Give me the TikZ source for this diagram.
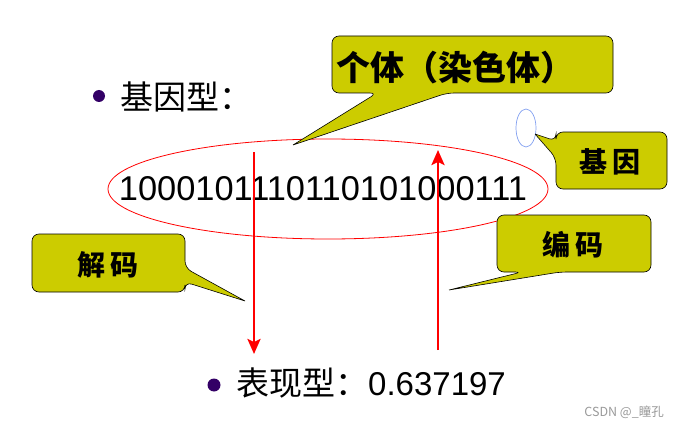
\documentclass[tikz,border=0pt]{standalone}
\usepackage{fontspec}
\setmainfont{Liberation Sans}
\newfontfamily\cjk{Noto Sans CJK SC}
\usepackage{tikz}
\usetikzlibrary{calc,arrows.meta}
\usepackage{xcolor}
\definecolor{bubblefill}{RGB}{204,204,0}
\definecolor{bulletpurple}{RGB}{51,0,102}
\definecolor{geneblue}{RGB}{130,160,240}

\tikzset{
  bubble/.style={fill=bubblefill, draw=black, line width=0.6pt, rounded corners=7pt},
  bubbletext/.style={font=\cjk\bfseries\fontsize{28}{32}\selectfont, inner sep=0pt},
  redarrow/.style={red, line width=2.6pt, -{Stealth[length=15pt,width=13pt,inset=3pt]}}
}

\begin{document}
\begin{tikzpicture}[x=1pt,y=-1pt]
    \useasboundingbox (0,0) rectangle (678,428);

    \fill[bulletpurple] (99,96) circle (6);
    \node[anchor=west, inner sep=0pt, font=\cjk\fontsize{33}{37}\selectfont] (genotype) at (120,97) {基因型：};

    \draw[red, line width=0.8pt] (328,189) ellipse (220 and 50);
    \node[inner sep=0pt, font=\fontsize{34.4}{39}\selectfont] (bits) at (323,189) {1000101110110101000111};

    \draw[geneblue, line width=0.7pt] (526,128) ellipse (10 and 19);

    \coordinate (decodetop) at (254,152);
    \coordinate (decodebot) at (254,354);
    \coordinate (encodebot) at (438,350);
    \coordinate (encodetop) at (438,150);
    \draw[redarrow] (decodetop) -- (decodebot);
    \draw[redarrow] (encodebot) -- (encodetop);

    \draw[bubble] (293,145) -- (447,93) -- (613,93) -- (613,36) -- (332,36) -- (332,93) -- (377,93) -- (293,145);
    \node[bubbletext, font=\cjk\bfseries\fontsize{34}{38}\selectfont] (individual) at (455,68) {个体（染色体）};

    \draw[bubble] (535,134) -- (556,158) -- (556,189) -- (667,189) -- (667,132) -- (556,132) -- (556,141) -- (535,134);
    \node[bubbletext] (gene) at (610,162) {基\hspace{5pt}因};

    \draw[bubble] (245,301) -- (185,268) -- (185,234) -- (32,234) -- (32,292) -- (185,292) -- (185,282) -- (245,301);
    \node[bubbletext] (decode) at (108,265) {解\hspace{5pt}码};

    \draw[bubble] (449,290) -- (522,272) -- (497,272) -- (497,215) -- (651,215) -- (651,272) -- (560,272) -- (449,290);
    \node[bubbletext] (encode) at (573,245) {编\hspace{5pt}码};

    \fill[bulletpurple] (214,385) circle (6.5);
    \node[anchor=west, inner sep=0pt, font=\fontsize{33}{37}\selectfont] (phenotype) at (236,383) {{\cjk\fontsize{33}{37}\selectfont 表现型：}0.637197};

    \node[anchor=east, inner sep=0pt, text=gray!80, font=\cjk\fontsize{12.5}{15}\selectfont] (mark) at (664,412) {CSDN @\_瞳孔};
\end{tikzpicture}
\end{document}
